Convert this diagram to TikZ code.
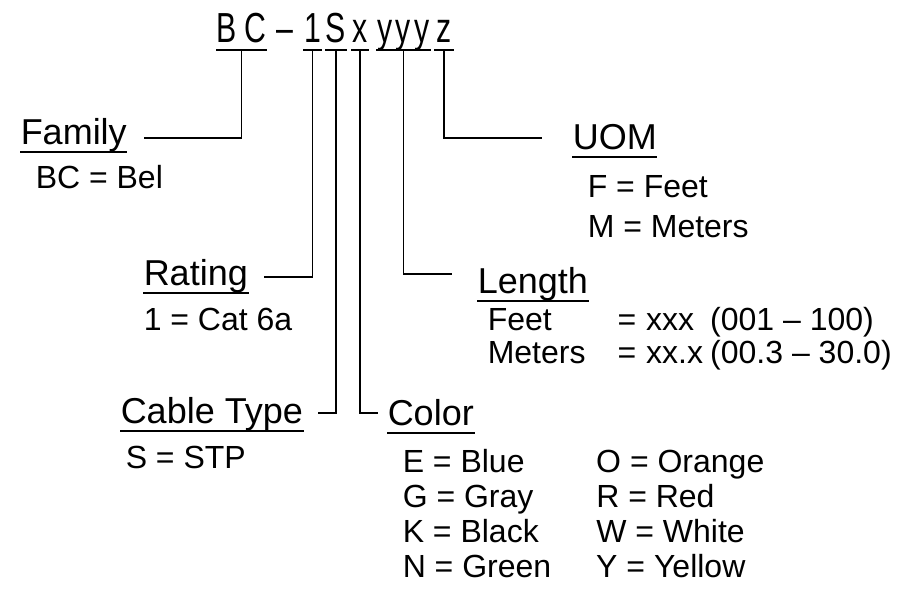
\documentclass[tikz,border=0pt]{standalone}
\usepackage{fontspec}
\setmainfont{Liberation Sans}
\newfontfamily\codefont[FakeStretch=0.72]{Liberation Sans}

\begin{document}
\begin{tikzpicture}[
    x=1pt, y=-1pt,
    line width=1.5pt,
    code/.style={inner sep=0pt, text depth=0pt, anchor=base, font=\codefont\fontsize{42}{42}\selectfont},
    head/.style={inner sep=0pt, text depth=0pt, anchor=base west, font=\fontsize{36}{40}\selectfont},
    info/.style={inner sep=0pt, anchor=base west, font=\fontsize{32}{35}\selectfont}
]
    \useasboundingbox (0,0) rectangle (899,594);

    % Part number
    \node[code, minimum width=47pt] (bc) at (241.5,43) {B\hspace{7pt}C};
    \node[code] (dash) at (285,43) {–};
    \node[code, minimum width=13pt] (one) at (312.5,43) {1};
    \node[code, minimum width=16pt] (ess) at (336,43) {S};
    \node[code, minimum width=16pt] (ex) at (360,43) {x};
    \node[code, minimum width=53pt] (why) at (403.5,43) {y\hspace{3pt}y\hspace{3pt}y};
    \node[code, minimum width=18pt] (zed) at (444,43) {z};
    \foreach \n in {bc,one,ess,ex,why,zed}
        \draw ([yshift=-7pt]\n.base west) -- ([yshift=-7pt]\n.base east);

    % Family
    \node[head] (family) at (20,144) {Family};
    \node[info] (famdesc) at (35,188) {BC = Bel};

    % Rating
    \node[head] (rating) at (143,285) {Rating};
    \node[info] (ratedesc) at (143,330) {1 = Cat 6a};

    % Cable type
    \node[head] (ctype) at (120,423) {Cable Type};
    \node[info] (typedesc) at (125,468) {S = STP};

    % Color
    \node[head] (color) at (387,425) {Color};
    \node[info] (colordesc) at (402,472) {\begin{tabular}[t]{@{}l@{\hspace{45pt}}l@{}}
        E = Blue & O = Orange\\
        G = Gray & R = Red\\
        K = Black & W = White\\
        N = Green & Y = Yellow
    \end{tabular}};

    % Length
    \node[head] (length) at (477,293) {Length};
    \node[info] (lendesc) at (487,330) {\begin{tabular}[t]{@{}l@{\hspace{32pt}}l@{\hspace{10pt}}l@{}}
        Feet & = & \makebox[64pt][l]{xxx}(001 – 100)\\[-2pt]
        Meters & = & \makebox[64pt][l]{xx.x}(00.3 – 30.0)
    \end{tabular}};

    % UOM
    \node[head] (uom) at (572,149) {UOM};
    \node[info] (uomdesc) at (587,197) {\begin{tabular}[t]{@{}l@{}}
        F = Feet\\[5pt]
        M = Meters
    \end{tabular}};

    % Underlines
    \foreach \n in {family,rating,ctype,color,length,uom}
        \draw ([yshift=-8pt]\n.base west) -- ([yshift=-8pt]\n.base east);

    % Leaders
    \draw ([yshift=-7pt]bc.base) |- ([xshift=17pt,yshift=6pt]family.base east);
    \draw ([yshift=-7pt]one.base) |- ([xshift=15pt,yshift=8pt]rating.base east);
    \draw ([yshift=-7pt]ess.base) |- ([xshift=14pt,yshift=10pt]ctype.base east);
    \draw ([yshift=-7pt]ex.base) |- ([xshift=-9pt,yshift=12pt]color.base west);
    \draw ([yshift=-7pt]why.base) |- ([xshift=-25pt,yshift=19pt]length.base west);
    \draw ([yshift=-7pt]zed.base) |- ([xshift=-30pt,yshift=11pt]uom.base west);

\end{tikzpicture}
\end{document}
